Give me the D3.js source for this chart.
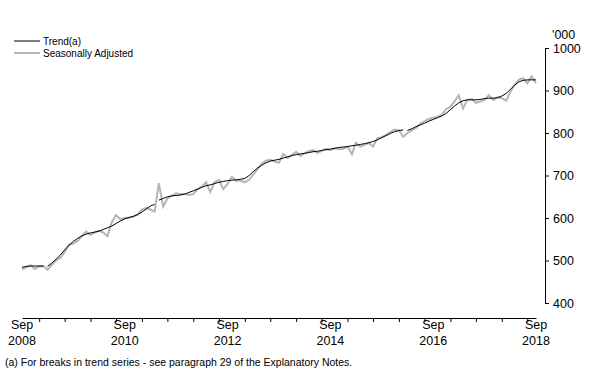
<!DOCTYPE html>
<html><head><meta charset="utf-8">
<script src="https://cdn.jsdelivr.net/npm/d3@7"></script>
<style>
body{margin:0;background:#fff;}
svg{display:block;font-family:"Liberation Sans",Arial,sans-serif;}
</style></head>
<body><svg id="c" width="591" height="378"></svg>
<script>
// Monthly data, Sep 2008 .. Sep 2018 ('000)
const startMonth = [2008, 8]; // Sep 2008 (0-based month)
const trend = [484,486,487,487,487,487, 486,494,503,513,525,536,545,552,558,562,565,567,569,573,577,581,587,593,598,601,604,608,614,621,628,632,
 642,646,650,652,653,654,656,660,664,668,672,676,678,681,684,686,688,689,690,691,693,700,709,717,724,730,734,736,738,741,744,747,749,751,752,754,756,757,759,761,762,764,766,767,768,770,771,773,775,777,780,784,789,794,799,803,806,807,
 806,810,815,819,823,828,832,836,840,846,855,864,871,876,878,878,878,879,881,882,882,883,887,893,902,912,920,924,925,925,925];
const trendBreaks = [6, 32, 90]; // index where a new trend segment starts
const seasAdj = [479,484,489,480,486,487,478,490,500,506,520,537,540,546,558,568,560,566,570,566,557,590,607,597,600,601,603,608,620,624,620,615,
 682,627,646,652,658,656,657,654,656,668,674,684,661,685,690,668,680,697,687,688,684,690,702,715,728,735,737,733,730,751,741,748,756,746,752,757,760,753,758,762,760,764,762,763,768,750,777,768,772,777,768,788,790,795,802,808,806,791,
 800,806,812,822,828,833,836,838,843,856,862,875,889,858,878,880,871,874,878,889,878,884,882,876,895,913,925,929,917,933,917];
const yTicks = [400,500,600,700,800,900,1000];
const xLabelYears = [2008,2010,2012,2014,2016,2018];
const seriesNames = ["Trend(a)", "Seasonally Adjusted"];
const unitLabel = "'000";
const footnote = "(a) For breaks in trend series - see paragraph 29 of the Explanatory Notes.";

const dates = seasAdj.map((_, i) => new Date(startMonth[0], startMonth[1] + i, 1));
const svg = d3.select("#c");
const x = d3.scaleTime().domain([new Date(2008, 8, 1), new Date(2018, 8, 1)]).range([22, 536]);
const y = d3.scaleLinear().domain([400, 1000]).range([303, 48]);

// Y axis (right)
const yAxis = svg.append("g").attr("transform", "translate(545,0)")
  .call(d3.axisRight(y).tickValues(yTicks).tickFormat(d3.format("d")).tickSize(4).tickSizeOuter(0).tickPadding(4));
yAxis.select(".domain").attr("stroke", "#000");
yAxis.selectAll("text").attr("font-size", 12.5).attr("fill", "#000");
svg.append("text").attr("x", 552).attr("y", 39).attr("font-size", 12.5).text(unitLabel);

// X axis
const xTicks = d3.timeMonth.every(6).range(new Date(2008, 8, 1), new Date(2018, 9, 1));
const xAxis = svg.append("g").attr("transform", "translate(0,318)")
  .call(d3.axisBottom(x).tickValues(xTicks).tickSize(4).tickSizeOuter(0).tickFormat(""));
xAxis.select(".domain").attr("stroke", "#000");
xLabelYears.forEach(yr => {
  const xx = x(new Date(yr, 8, 1));
  svg.append("text").attr("x", xx).attr("y", 329).attr("text-anchor", "middle").attr("font-size", 12.5).text("Sep");
  svg.append("text").attr("x", xx).attr("y", 345).attr("text-anchor", "middle").attr("font-size", 12.5).text(yr);
});

// Series
const line = d3.line().x(d => x(d[0])).y(d => y(d[1]));
svg.append("path").datum(seasAdj.map((v, i) => [dates[i], v]))
  .attr("fill", "none").attr("stroke", "#b5b5b5").attr("stroke-width", 2).attr("d", line);
const bounds = [0, ...trendBreaks, trend.length];
for (let s = 0; s < bounds.length - 1; s++) {
  const seg = [];
  for (let i = bounds[s]; i < bounds[s + 1]; i++) seg.push([dates[i], trend[i]]);
  svg.append("path").datum(seg).attr("fill", "none").attr("stroke", "#000").attr("stroke-width", 1).attr("d", line);
}

// Legend
const leg = svg.append("g");
[["#000", 1], ["#b5b5b5", 2]].forEach((st, i) => {
  const yy = 41 + i * 12;
  leg.append("line").attr("x1", 14).attr("x2", 40).attr("y1", yy).attr("y2", yy).attr("stroke", st[0]).attr("stroke-width", st[1]);
  leg.append("text").attr("x", 43).attr("y", yy + 3.5).attr("font-size", 10).text(seriesNames[i]);
});

// Footnote
svg.append("text").attr("x", 5).attr("y", 366).attr("font-size", 10.5).text(footnote);
</script></body></html>
